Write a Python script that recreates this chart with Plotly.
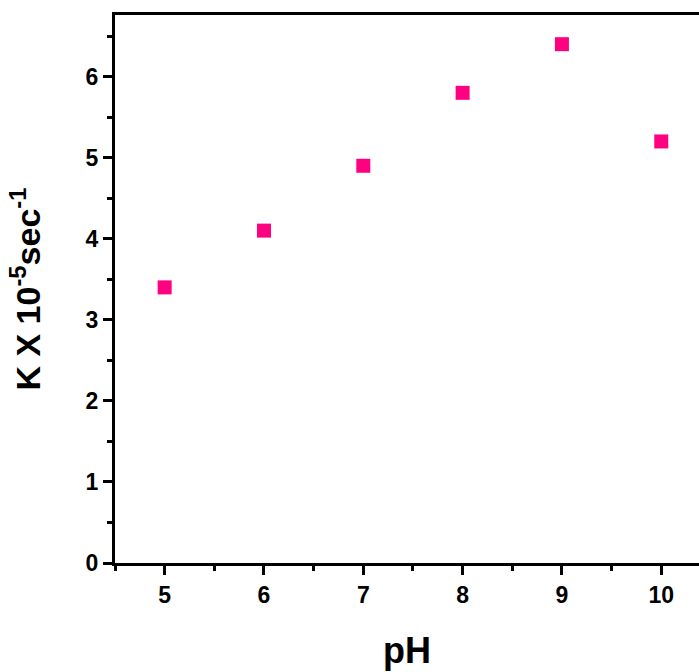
import plotly.graph_objects as go

# pH values and rate constants (K x 10^-5 sec^-1)
ph = [5, 6, 7, 8, 9, 10]
k_rate = [3.4, 4.1, 4.9, 5.8, 6.4, 5.2]

x_ticks = [5, 6, 7, 8, 9, 10]
y_ticks = [0, 1, 2, 3, 4, 5, 6]

sans = "Liberation Sans, Arial, sans-serif"

fig = go.Figure()
fig.add_trace(go.Scatter(
    x=ph, y=k_rate, mode="markers",
    marker=dict(symbol="square", size=14, color="#FF0080"),
    showlegend=False,
))

fig.update_layout(
    width=699, height=672,
    margin=dict(l=115, r=0, t=15, b=109),
    plot_bgcolor="white", paper_bgcolor="white",
    font=dict(family=sans, color="black"),
)

fig.update_xaxes(
    range=[4.5, 10.38], tickvals=x_ticks,
    ticktext=[f"<b>{v}</b>" for v in x_ticks],
    showline=True, linecolor="black", linewidth=3, mirror=True,
    ticks="outside", ticklen=9, tickwidth=3, tickcolor="black",
    minor=dict(dtick=0.5, tick0=0, ticks="outside", ticklen=5, tickwidth=3, tickcolor="black"),
    showgrid=False, zeroline=False,
    tickfont=dict(size=23, family=sans),
    title=dict(text="<b>pH</b>", font=dict(size=36, family=sans), standoff=32),
)
fig.update_yaxes(
    range=[0, 6.76], tickvals=y_ticks,
    ticktext=[f"<b>{v}</b>" for v in y_ticks],
    showline=True, linecolor="black", linewidth=3,
    ticks="outside", ticklen=9, tickwidth=3, tickcolor="black",
    minor=dict(dtick=0.5, tick0=0, ticks="outside", ticklen=5, tickwidth=3, tickcolor="black"),
    showgrid=False, zeroline=False,
    tickfont=dict(size=23, family=sans),
    title=dict(text="<b>K X 10<sup>-5</sup>sec<sup>-1</sup></b>",
               font=dict(size=34, family=sans), standoff=35),
)

# drop the default page margin so the figure sits flush in the window
fig.write_html("out.html",
               config={"displayModeBar": False},
               post_script="document.body.style.margin='0';document.body.style.overflow='hidden';")
